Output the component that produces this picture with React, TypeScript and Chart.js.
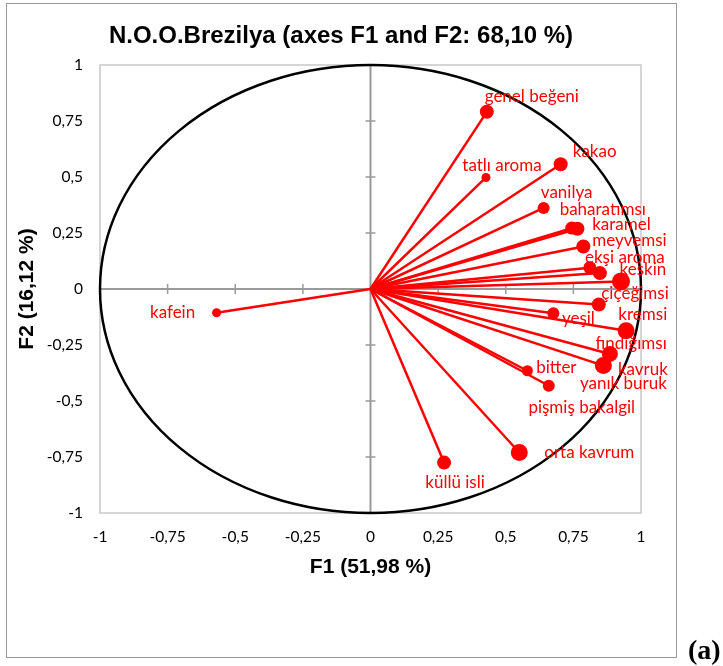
import React, { useEffect, useRef } from "react";
import { Chart, registerables } from "chart.js";

Chart.register(...registerables);

const chartTitle = "N.O.O.Brezilya (axes F1 and F2: 68,10 %)";
const xTitle = "F1 (51,98 %)";
const yTitle = "F2 (16,12 %)";

const variables = [
  "genel beğeni", "tatlı aroma", "kakao", "vanilya", "baharatımsı",
  "karamel", "meyvemsi", "ekşi aroma", "keskin", "çiçeğimsi",
  "kremsi", "yeşil", "fındığımsı", "kavruk", "yanık buruk",
  "bitter", "pişmiş bakalgil", "orta kavrum", "küllü isli", "kafein",
];
const f1Values = [
  0.430, 0.427, 0.703, 0.640, 0.744,
  0.765, 0.787, 0.811, 0.848, 0.926,
  0.844, 0.676, 0.945, 0.885, 0.861,
  0.580, 0.659, 0.550, 0.272, -0.569,
];
const f2Values = [
  0.791, 0.498, 0.557, 0.362, 0.272,
  0.269, 0.190, 0.095, 0.071, 0.034,
  -0.069, -0.108, -0.186, -0.290, -0.342,
  -0.365, -0.432, -0.730, -0.775, -0.106,
];
const tickValues = [-1, -0.75, -0.5, -0.25, 0, 0.25, 0.5, 0.75, 1];

// styling (marker size, label offsets in px)
const markerRadius = [7, 4.5, 7, 6, 6.5, 7, 7, 6.5, 7, 9, 7, 6, 8.5, 8, 8.5, 5.5, 6, 8.5, 7, 4.5];
const labelDx = [45, 16, 34, 23, 31, 44, 46, 35, 43, 14, 44, 25, 5, 33, 20, 29, 33, 70, 11, -44];
const labelDy = [-15, -12, -13, -15, -19, -4, -6, -10, -4, 12, 10, 5, 13, 16, 18, -3, 22, 0, 20, 0];

const RED = "#ff0000";
const fmt = (v: number) => String(v).replace(".", ",");

const bgPlugin = {
  id: "bgPlugin",
  beforeDatasetsDraw(chart: any) {
    const { ctx, chartArea: a, scales } = chart;
    const xs = scales.x, ys = scales.y;
    const cx = xs.getPixelForValue(0);
    const cy = ys.getPixelForValue(0);
    ctx.save();
    // plot border
    ctx.strokeStyle = "#c8c8c8";
    ctx.lineWidth = 1.5;
    ctx.strokeRect(a.left, a.top, a.right - a.left, a.bottom - a.top);
    // zero axes
    ctx.strokeStyle = "#9a9a9a";
    ctx.lineWidth = 2;
    ctx.beginPath();
    ctx.moveTo(a.left, cy); ctx.lineTo(a.right, cy);
    ctx.moveTo(cx, a.top); ctx.lineTo(cx, a.bottom);
    ctx.stroke();
    ctx.lineWidth = 1.5;
    ctx.beginPath();
    tickValues.forEach((v) => {
      const py = ys.getPixelForValue(v);
      ctx.moveTo(cx - 5, py); ctx.lineTo(cx + 5, py);
      const px = xs.getPixelForValue(v);
      ctx.moveTo(px, cy - 5); ctx.lineTo(px, cy + 5);
    });
    ctx.stroke();
    // correlation circle
    const rx = xs.getPixelForValue(1) - cx;
    const ry = cy - ys.getPixelForValue(1);
    ctx.strokeStyle = "#000";
    ctx.lineWidth = 2.5;
    ctx.beginPath();
    ctx.ellipse(cx, cy, rx, ry, 0, 0, Math.PI * 2);
    ctx.stroke();
    ctx.restore();
  },
  afterDatasetsDraw(chart: any) {
    const { ctx } = chart;
    ctx.save();
    ctx.fillStyle = RED;
    ctx.font = "17px Lato, 'Noto Sans', sans-serif";
    ctx.textAlign = "center";
    ctx.textBaseline = "middle";
    variables.forEach((name, i) => {
      const el = chart.getDatasetMeta(i).data[1];
      ctx.fillText(name, el.x + labelDx[i], el.y + labelDy[i]);
    });
    ctx.restore();
  },
  afterDraw(chart: any) {
    const { ctx } = chart;
    ctx.save();
    ctx.fillStyle = "#000";
    ctx.font = "bold 24px 'Liberation Sans', Arial, sans-serif";
    ctx.textAlign = "center";
    ctx.textBaseline = "middle";
    ctx.fillText(chartTitle, 341, 36);
    ctx.restore();
  },
};

export default function App() {
  const ref = useRef<HTMLCanvasElement | null>(null);
  useEffect(() => {
    if (!ref.current) return;
    const datasets = variables.map((name, i) => ({
      label: name,
      data: [
        { x: 0, y: 0 },
        { x: f1Values[i], y: f2Values[i] },
      ],
      showLine: true,
      borderColor: RED,
      borderWidth: 2.5,
      backgroundColor: RED,
      pointBackgroundColor: RED,
      pointBorderWidth: 0,
      pointRadius: [0, markerRadius[i]],
      pointHoverRadius: [0, markerRadius[i]],
    }));
    const tickFont = { family: "Lato, 'Noto Sans', sans-serif", size: 15.5 };
    const titleFont = { family: "'Liberation Sans', Arial, sans-serif", size: 21, weight: "bold" as const };
    const chart = new Chart(ref.current, {
      type: "scatter",
      data: { datasets },
      plugins: [bgPlugin],
      options: {
        animation: false,
        responsive: false,
        maintainAspectRatio: false,
        devicePixelRatio: 1,
        layout: { padding: { left: 0, right: 82, top: 65, bottom: 73 } },
        plugins: {
          legend: { display: false },
          tooltip: { enabled: false },
          title: { display: false },
        },
        scales: {
          x: {
            type: "linear",
            position: "bottom",
            min: -1,
            max: 1,
            grid: { display: false, drawTicks: false },
            border: { display: false },
            afterBuildTicks: (s: any) => {
              s.ticks = tickValues.map((v) => ({ value: v }));
            },
            afterFit: (s: any) => {
              s.height = 80;
            },
            ticks: {
              padding: 15,
              font: tickFont,
              color: "#000",
              maxRotation: 0,
              autoSkip: false,
              callback: (v: any) => fmt(Number(v)),
            },
            title: {
              display: true,
              text: xTitle,
              font: titleFont,
              color: "#000",
              padding: { top: 0, bottom: 13.4 },
            },
          },
          y: {
            type: "linear",
            position: "left",
            min: -1,
            max: 1,
            grid: { display: false, drawTicks: false },
            border: { display: false },
            afterBuildTicks: (s: any) => {
              s.ticks = tickValues.map((v) => ({ value: v }));
            },
            afterFit: (s: any) => {
              s.width = 100;
            },
            ticks: {
              padding: 17,
              font: tickFont,
              color: "#000",
              autoSkip: false,
              callback: (v: any) => fmt(Number(v)),
            },
            title: {
              display: true,
              text: yTitle,
              font: titleFont,
              color: "#000",
              padding: { top: 14.4, bottom: 0 },
            },
          },
        },
      },
    } as any);
    return () => chart.destroy();
  }, []);

  return (
    <div style={{ position: "absolute", left: 0, top: 0, width: 723, height: 666, background: "#fff", overflow: "hidden" }}>
      <div
        style={{
          position: "absolute",
          left: 6,
          top: 3,
          width: 671,
          height: 655,
          border: "1.5px solid #999",
          boxSizing: "border-box",
        }}
      />
      <canvas
        ref={ref}
        width={723}
        height={666}
        style={{ position: "absolute", left: 0, top: 0, width: 723, height: 666 }}
      />
      <div
        style={{
          position: "absolute",
          left: 688,
          top: 636,
          font: "bold 28px 'Liberation Serif', 'Times New Roman', serif",
          lineHeight: "28px",
          whiteSpace: "nowrap",
          color: "#000",
        }}
      >
        (a)
      </div>
    </div>
  );
}
